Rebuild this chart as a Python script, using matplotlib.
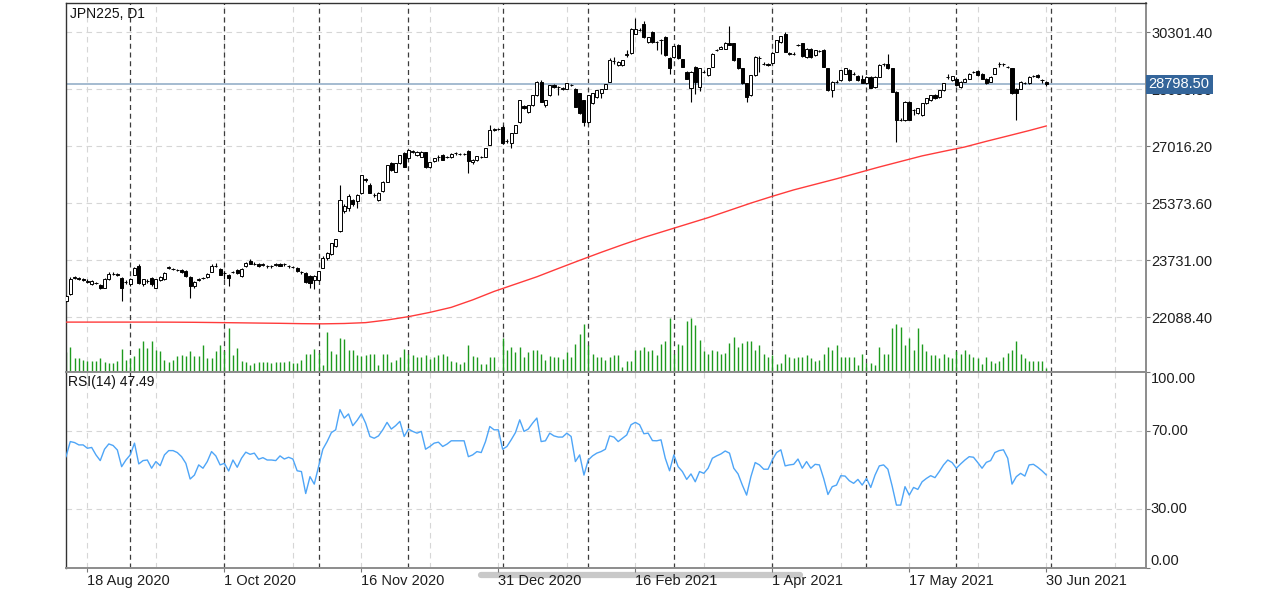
import matplotlib
matplotlib.use("Agg")
import numpy as np
import pandas as pd
import matplotlib.pyplot as plt
from matplotlib.lines import Line2D
from matplotlib import transforms

plt.rcParams["font.family"] = ["Liberation Sans", "DejaVu Sans"]

SYMBOL = "JPN225, D1"
FIRST_DAY, NEXT_DAY = "2020-08-11", "2021-07-01"
HOLIDAYS = ["2020-12-25", "2021-01-01"]

opens = [
    22560, 22750, 23230, 23230, 23190, 23120, 23060, 23090, 23020, 22940,
    23180, 23340, 23330, 23230, 23100, 23040, 23320, 23560, 23040, 23140,
    23230, 22940, 23170, 23180, 23520, 23490, 23450, 23450, 23420, 23260,
    22990, 23160, 23220, 23260, 23400, 23570, 23490, 23360, 23320, 23390,
    23450, 23280, 23560, 23700, 23620, 23630, 23600, 23560, 23560, 23600,
    23630, 23610, 23560, 23540, 23510, 23390, 23370, 23290, 23160, 23160,
    23510, 23800, 23900, 24140, 24570, 25140, 25240, 25460, 25430, 25670,
    26060, 25910, 25620, 25480, 25720, 26000, 26530, 26290, 26530, 26820,
    26670, 26860, 26770, 26720, 26840, 26420, 26580, 26720, 26770, 26710,
    26720, 26810, 26800, 26790, 26890, 26550, 26620, 26700, 26720, 27060,
    27500, 27510, 27580, 27170, 27100, 27410, 27730, 28180, 28010, 28210,
    28490, 28880, 28210, 28490, 28780, 28730, 28680, 28680, 28780, 28680,
    28540, 28350, 27730, 28250, 28440, 28540, 28680, 28880, 29470, 29350,
    29350, 29650, 29710, 30260, 30380, 30550, 30020, 30310, 30020, 30070,
    30170, 29550, 29590, 29930, 29520, 29160, 28710, 29310, 28730, 29160,
    29070, 29310, 29780, 29830, 29830, 29980, 29980, 29550, 29260, 28830,
    28490, 29070, 29560, 29400, 29400, 29420, 29740, 30020, 30260, 29710,
    29690, 29930, 29980, 29590, 29830, 29640, 29770, 29790, 29260, 28640,
    28880, 28920, 29110, 29210, 29110, 29040, 28970, 28830, 29020, 28730,
    29020, 29380, 29380, 29260, 28590, 27770, 27770, 28300, 28060, 27970,
    27920, 28250, 28350, 28490, 28440, 28640, 29000, 28920, 28970, 28730,
    28880, 28970, 29160, 29190, 29110, 28970, 28880, 29110, 29380, 29380,
    29310, 29260, 28680, 28680, 28850, 28830, 29040, 29070, 28920, 28880,
]
highs = [
    22720, 23260, 23290, 23260, 23220, 23180, 23170, 23120, 23060, 23210,
    23400, 23380, 23370, 23260, 23150, 23230, 23540, 23620, 23200, 23180,
    23260, 23200, 23290, 23400, 23570, 23520, 23480, 23470, 23440, 23280,
    23140, 23230, 23260, 23370, 23620, 23640, 23510, 23420, 23340, 23430,
    23470, 23500, 23680, 23760, 23670, 23650, 23640, 23600, 23590, 23650,
    23660, 23650, 23600, 23570, 23530, 23430, 23400, 23320, 23300, 23430,
    23850, 23960, 24240, 24350, 25910, 25350, 25650, 25500, 25640, 26200,
    26100, 25950, 25660, 25690, 26010, 26490, 26560, 26540, 26780, 26850,
    26920, 26900, 26880, 26880, 26860, 26560, 26690, 26760, 26790, 26750,
    26810, 26850, 26830, 26830, 26920, 26640, 26750, 26740, 26970, 27640,
    27540, 27540, 27620, 27230, 27400, 27640, 28360, 28210, 28220, 28500,
    28900, 28920, 28360, 28790, 28800, 28760, 28720, 28840, 28820, 28700,
    28560, 28360, 28500, 28550, 28650, 28670, 28820, 29550, 29600, 29470,
    29510, 29790, 30430, 30720, 30420, 30630, 30180, 30340, 30060, 30110,
    30200, 29580, 29920, 29960, 29540, 29190, 29180, 29330, 29280, 29210,
    29280, 29700, 29820, 29900, 30020, 30480, 30000, 29570, 29280, 28850,
    29080, 29610, 29610, 29440, 29420, 29720, 30080, 30200, 30300, 29740,
    29720, 29960, 30000, 29850, 29860, 29800, 29800, 29810, 29280, 28900,
    28920, 29220, 29270, 29240, 29150, 29060, 29060, 29030, 29050, 29030,
    29380, 29420, 29670, 29280, 28610, 27820, 28320, 28330, 28100, 28120,
    28260, 28410, 28500, 28510, 28650, 28840, 29100, 29050, 29000, 28890,
    28980, 29120, 29200, 29210, 29130, 28990, 29030, 29270, 29450, 29420,
    29340, 29280, 28700, 28890, 28880, 29030, 29070, 29090, 28960, 28910,
]
lows = [
    22530, 22740, 23200, 23150, 23140, 23090, 23030, 23040, 22890, 22920,
    23160, 23300, 23280, 22560, 23050, 23000, 23300, 23050, 22990, 23090,
    23000, 22920, 23140, 23160, 23490, 23450, 23410, 23370, 23260, 22650,
    22930, 23140, 23180, 23230, 23380, 23540, 23300, 23200, 22990, 23360,
    23350, 23260, 23540, 23610, 23590, 23550, 23560, 23520, 23520, 23570,
    23570, 23570, 23520, 23500, 23400, 23350, 23090, 22940, 22900, 23140,
    23500, 23750, 23880, 24120, 24550, 25100, 25140, 25300, 25230, 25650,
    26000, 25660, 25550, 25450, 25700, 25980, 26300, 26270, 26510, 26420,
    26650, 26820, 26750, 26700, 26400, 26380, 26550, 26600, 26620, 26680,
    26690, 26780, 26770, 26770, 26240, 26520, 26600, 26670, 26700, 27040,
    27470, 27490, 27100, 27120, 26960, 27390, 27700, 28100, 27990, 28190,
    28470, 28280, 28150, 28470, 28710, 28500, 28640, 28660, 28740, 28140,
    27950, 27600, 27700, 28230, 28420, 28400, 28660, 28860, 29400, 29330,
    29330, 29600, 29690, 30240, 30330, 30150, 29990, 30000, 29800, 29690,
    29620, 29100, 29570, 29530, 29290, 28960, 28300, 28520, 28600, 29130,
    29050, 29290, 29750, 29810, 29810, 29930, 29480, 29240, 28810, 28300,
    28470, 29050, 29170, 29350, 29340, 29400, 29720, 30000, 29720, 29640,
    29650, 29900, 29600, 29570, 29570, 29620, 29730, 29290, 28620, 28430,
    28840, 28900, 29090, 28900, 29080, 28900, 28840, 28810, 28700, 28700,
    29000, 29340, 29240, 28570, 27150, 27740, 27750, 27760, 27920, 27950,
    27900, 28230, 28330, 28380, 28420, 28620, 28950, 28900, 28760, 28710,
    28860, 28950, 29120, 29050, 28960, 28810, 28860, 29090, 29310, 29340,
    29270, 28520, 27770, 28660, 28820, 28810, 29010, 28990, 28850, 28760,
]
closes = [
    22700, 23200, 23250, 23180, 23170, 23140, 23130, 23080, 22940, 23180,
    23340, 23350, 23320, 22940, 23120, 23200, 23510, 23080, 23180, 23130,
    23040, 23180, 23260, 23370, 23530, 23480, 23440, 23390, 23280, 22990,
    23100, 23200, 23230, 23340, 23560, 23580, 23320, 23370, 23230, 23400,
    23370, 23490, 23660, 23620, 23630, 23560, 23610, 23560, 23570, 23610,
    23580, 23620, 23570, 23540, 23410, 23390, 23100, 23080, 23290, 23420,
    23800, 23950, 24230, 24340, 25480, 25290, 25570, 25360, 25620, 26200,
    26050, 25670, 25620, 25670, 26000, 26480, 26340, 26530, 26770, 26430,
    26910, 26870, 26860, 26860, 26420, 26550, 26670, 26720, 26630, 26720,
    26800, 26820, 26800, 26800, 26580, 26620, 26740, 26710, 26960, 27490,
    27510, 27520, 27120, 27180, 27390, 27630, 28350, 28130, 28210, 28490,
    28880, 28300, 28350, 28780, 28730, 28730, 28690, 28830, 28780, 28160,
    27970, 27730, 28490, 28540, 28640, 28660, 28810, 29500, 29480, 29450,
    29500, 29670, 30410, 30410, 30380, 30170, 30170, 30020, 30030, 30080,
    29640, 29260, 29900, 29550, 29310, 28970, 29160, 28880, 29260, 29170,
    29260, 29690, 29790, 29880, 30000, 29950, 29500, 29260, 28830, 28440,
    29070, 29590, 29550, 29400, 29350, 29710, 30070, 30190, 29740, 29670,
    29690, 29930, 29620, 29830, 29590, 29790, 29770, 29310, 28640, 28880,
    28880, 29210, 29260, 28920, 29110, 28920, 28850, 29020, 28710, 29020,
    29350, 29380, 29260, 28590, 27770, 27780, 28300, 27770, 28060, 28110,
    28250, 28400, 28490, 28400, 28640, 28830, 29000, 29040, 28780, 28880,
    28970, 29110, 29160, 29070, 28970, 28830, 29020, 29260, 29380, 29390,
    29300, 28540, 28540, 28880, 28850, 29020, 29040, 29000, 28920, 28798.5,
]
volumes = [
    2000, 2470, 1400, 1400, 1230, 1130, 1070, 1130, 1400, 1000,
    900, 900, 1130, 2330, 1230, 1400, 1570, 2400, 3130, 2400,
    3070, 2230, 2130, 1230, 1000, 1230, 1570, 1670, 1570, 2130,
    1570, 1570, 2670, 1400, 1400, 2130, 2670, 2070, 4400, 1670,
    2400, 1070, 1000, 670, 900, 1000, 1000, 1000, 900, 1000,
    1000, 1000, 1130, 900, 900, 1200, 1850, 1850, 2350, 1900,
    700, 4050, 2150, 1800, 3450, 3300, 2200, 2200, 1670, 1570,
    1670, 1770, 1770, 670, 1830, 1830, 1000, 1170, 1500, 2330,
    1770, 1670, 1500, 1500, 1670, 1330, 1500, 1670, 1830, 1570,
    1100, 1000, 770, 1000, 2670, 1570, 1500, 830, 830, 1500,
    1500, 170, 3430, 2230, 2500, 2000, 2500, 1500, 2000, 2170,
    2170, 1830, 1170, 1570, 1500, 1500, 1330, 2000, 1500, 2830,
    3830, 4830, 2670, 1830, 1500, 1500, 1170, 1500, 1670, 1670,
    500, 1070, 1070, 2230, 2230, 2500, 2070, 2230, 1670, 2770,
    3100, 5400, 1770, 2830, 2670, 5100, 5400, 4670, 3230, 2070,
    1770, 2230, 2070, 1770, 1930, 2930, 3500, 2500, 2930, 3100,
    3100, 2230, 2670, 1770, 1500, 1670, 830, 930, 1770, 1500,
    1400, 1500, 1500, 1670, 1400, 1070, 1230, 1770, 2500, 2230,
    2670, 1500, 1500, 1500, 1500, 670, 1770, 930, 930, 670,
    2500, 1770, 1770, 4400, 4770, 4500, 2670, 3400, 2230, 4400,
    2770, 2070, 1670, 1670, 1400, 1770, 1500, 1400, 2070, 1770,
    2230, 1770, 1500, 1400, 770, 1500, 1070, 930, 1070, 1500,
    1930, 2230, 3100, 1770, 1400, 1070, 1070, 1070, 1070, 400,
]
rsi = [
    56.8, 64.5, 64.0, 62.8, 62.8, 61.1, 61.5, 57.7, 54.8, 60.6,
    63.3, 62.5, 60.2, 51.7, 55.1, 57.7, 63.7, 53.1, 54.8, 55.1,
    50.9, 54.3, 52.2, 57.7, 59.9, 59.9, 58.9, 56.8, 53.4, 45.4,
    47.4, 52.6, 50.9, 54.3, 59.4, 57.2, 52.6, 53.4, 49.5, 55.1,
    51.4, 56.0, 59.1, 58.0, 58.6, 55.5, 56.3, 55.1, 55.1, 54.8,
    57.2, 55.6, 56.5, 55.6, 49.6, 49.2, 38.0, 46.6, 42.8, 51.7,
    60.6, 64.5, 69.1, 70.5, 80.8, 76.5, 78.6, 72.6, 75.3, 78.6,
    73.9, 67.1, 66.2, 67.4, 70.5, 74.3, 70.9, 72.6, 74.8, 67.1,
    70.9, 69.7, 68.8, 69.7, 60.6, 62.0, 63.7, 64.2, 62.0, 63.2,
    64.9, 64.9, 64.9, 64.9, 56.8, 57.7, 59.4, 58.9, 64.5, 72.2,
    70.5, 70.5, 60.6, 62.0, 65.4, 69.1, 75.6, 69.7, 70.9, 73.9,
    76.5, 64.5, 64.9, 68.8, 67.4, 66.8, 66.8, 68.8, 67.1, 54.3,
    57.7, 47.4, 55.1, 57.2, 58.6, 59.4, 60.6, 67.4, 66.8, 64.5,
    66.2, 67.9, 73.1, 74.3, 73.1, 68.5, 68.8, 65.0, 64.9, 65.4,
    56.0, 49.6, 57.7, 51.7, 49.2, 45.2, 48.0, 44.0, 49.2, 48.3,
    50.9, 56.0, 57.2, 58.2, 59.7, 58.6, 50.9, 48.0, 42.3, 37.2,
    46.6, 53.8, 52.6, 50.4, 50.4, 55.1, 58.9, 60.3, 52.1, 52.6,
    52.9, 55.6, 50.9, 54.3, 50.9, 52.9, 52.6, 45.7, 37.5, 41.5,
    42.3, 47.1, 46.9, 44.5, 43.2, 45.2, 42.3, 45.7, 41.1, 47.4,
    52.1, 52.6, 50.4, 41.8, 32.1, 32.1, 41.5, 37.2, 41.1, 40.1,
    44.0, 45.7, 47.1, 46.1, 49.2, 52.6, 55.1, 53.8, 50.9, 53.1,
    55.1, 56.8, 56.5, 53.8, 50.9, 53.9, 54.8, 58.9, 59.9, 60.3,
    56.0, 42.8, 46.6, 48.3, 46.9, 52.6, 52.9, 51.4, 49.6, 47.49,
]
# 200-day moving average, read every 5 bars (and the last bar)
ma_step = 5
ma_vals = [21950, 21950, 21950, 21950, 21950, 21948, 21944, 21937, 21930, 21922,
           21915, 21905, 21900, 21910, 21935, 22010, 22107, 22230, 22375, 22590,
           22834, 23045, 23256, 23495, 23730, 23960, 24180, 24390, 24580, 24770,
           24960, 25170, 25380, 25575, 25760, 25920, 26080, 26250, 26420, 26580,
           26740, 26870, 26998, 27160, 27314, 27470, 27602]
price_ticks = [22088.40, 23731.00, 25373.60, 27016.20, 28658.80, 30301.40]
rsi_ticks = [0, 30, 70, 100]

o, h, l, c = (np.array(a, float) for a in (opens, highs, lows, closes))
n = len(c)
x = np.arange(n)
dates = pd.bdate_range(FIRST_DAY, NEXT_DAY)
dates = dates[~dates.isin(pd.to_datetime(HOLIDAYS))]
month_starts = [i for i in range(1, len(dates)) if dates[i].month != dates[i - 1].month]
label_idx = list(range(5, n, 32))
grid_idx = list(range(5, 253, 16))
ma_x = list(range(0, n, ma_step)) + [n - 1]

W, H = 1280, 592
def rect(left, top, right, bottom):
    return [left / W, 1 - bottom / H, (right - left) / W, (bottom - top) / H]

fig = plt.figure(figsize=(12.8, 5.92), dpi=100)
ax = fig.add_axes(rect(66, 3, 1146, 372))
axr = fig.add_axes(rect(66, 372, 1146, 568), sharex=ax)

GRID = dict(color="#d6d6d6", lw=0.8, ls=(0, (5, 4)), zorder=0)
SEP = dict(color="#3c3c3c", lw=0.9, ls=(0, (4, 3)), zorder=1)
for a in (ax, axr):
    for g in grid_idx:
        a.axvline(g, **GRID)
    for m in month_starts:
        a.axvline(m, **SEP)
for p in price_ticks:
    ax.axhline(p, **GRID)
for r in rsi_ticks[1:-1]:
    axr.axhline(r, **GRID)

# volumes in the bottom of the price window
vtrans = transforms.blended_transform_factory(ax.transData, ax.transAxes)
ax.vlines(x, 0, np.array(volumes) / 36900, transform=vtrans, color="#1e9a1e", lw=1.0, zorder=2)

# candles
up = c >= o
ax.vlines(x, l, h, color="black", lw=0.8, zorder=3)
ax.bar(x, np.abs(c - o), bottom=np.minimum(o, c), width=0.72,
       color=np.where(up, "white", "black"), edgecolor="black", linewidth=0.7, zorder=4)
ax.plot(ma_x, ma_vals, color="#ff3b3b", lw=1.0, zorder=5)

ax.axhline(c[-1], color="#9db5cd", lw=1.3, zorder=2)
ptrans = transforms.blended_transform_factory(ax.transAxes, ax.transData)
ax.text(1.0025, c[-1], f"{c[-1]:.2f}", transform=ptrans, color="white", fontsize=10.5,
        va="center", ha="left", zorder=10, clip_on=False,
        bbox=dict(boxstyle="square,pad=0.2", fc="#34659a", ec="none"))

ax.set_xlim(0.0, 252.3)
ax.set_ylim(20512, 31146)
ax.yaxis.tick_right()
ax.set_yticks(price_ticks)
ax.set_yticklabels([f"{p:.2f}" for p in price_ticks])
ax.tick_params(axis="y", length=3, width=0.8, color="#777777", labelsize=10.5,
               labelcolor="#1e1e1e", pad=1)
ax.tick_params(axis="x", bottom=False, labelbottom=False)
ax.text(0.004, 0.988, SYMBOL, transform=ax.transAxes, fontsize=10, va="top", ha="left", color="#111111")

# RSI window
axr.plot(x, rsi, color="#4ea5f7", lw=1.0, zorder=3)
axr.set_ylim(0, 100)
axr.yaxis.tick_right()
axr.set_yticks(rsi_ticks)
axr.set_yticklabels([])
axr.tick_params(axis="y", length=3, width=0.8, color="#777777")
rtrans = transforms.blended_transform_factory(axr.transAxes, axr.transData)
for r in rsi_ticks:
    va = "bottom" if r == 0 else ("top" if r == 100 else "center")
    axr.text(1.0045, r, f"{r:.2f}", transform=rtrans, fontsize=10.5, va=va, ha="left",
             color="#1e1e1e", clip_on=False)
axr.text(0.002, 0.985, f"RSI(14) {rsi[-1]:.2f}", transform=axr.transAxes, fontsize=10,
         va="top", ha="left", color="#111111")
axr.set_xticks(label_idx)
axr.set_xticklabels([f"{dates[i].day} {dates[i].strftime('%b %Y')}" for i in label_idx], ha="left")
axr.tick_params(axis="x", length=3, width=0.8, color="#777777", labelsize=10.5,
                labelcolor="#1e1e1e", pad=1)

for a in (ax, axr):
    a.spines["left"].set_color("#333333")
    a.spines["left"].set_linewidth(1.0)
    for s in ("right", "bottom", "top"):
        a.spines[s].set_color("#8c8c8c")
        a.spines[s].set_linewidth(1.4)
ax.spines["top"].set_color("#333333")
ax.spines["top"].set_linewidth(1.0)

# scroll indicator under the time axis
fig.add_artist(Line2D([481 / W, 800 / W], [1 - 575 / H] * 2, transform=fig.transFigure,
                      color="#c9c9c9", lw=4.5, solid_capstyle="round", zorder=-1))

fig.savefig("out.png", dpi=100)
